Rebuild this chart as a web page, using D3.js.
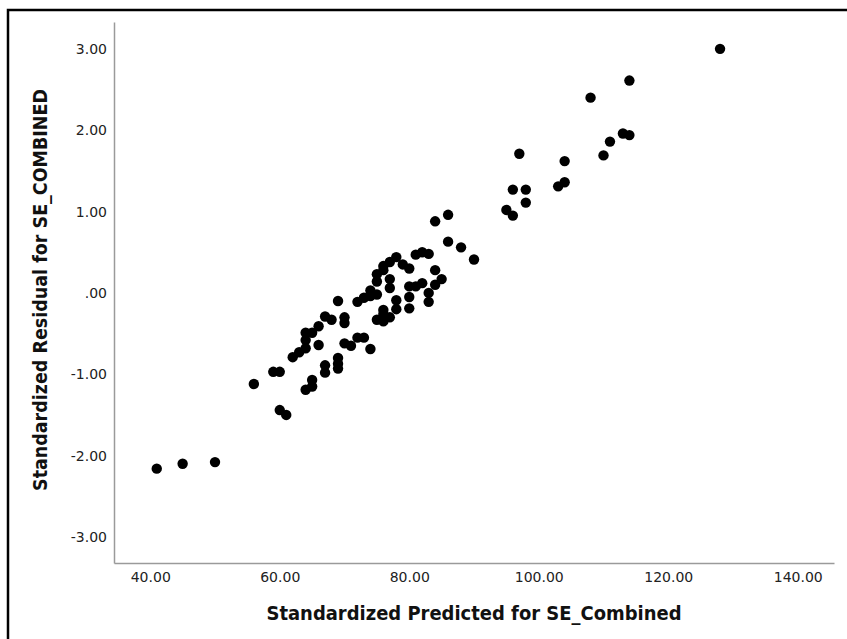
<!DOCTYPE html>
<html>
<head>
<meta charset="utf-8">
<script src="https://cdnjs.cloudflare.com/ajax/libs/d3/7.8.5/d3.min.js"></script>
<style>
  body { margin: 0; background: #fff; }
  svg { display: block; }
</style>
</head>
<body>
<script>
"use strict";

var width = 847;
var height = 639;

// predicted (x) and residual (y) values
var predicted = [41, 45, 50, 56, 59, 60, 60, 61, 62, 63, 64, 64, 64, 64, 65, 65, 65, 66, 66,
  67, 67, 67, 68, 69, 69, 69, 69, 70, 70, 70, 71, 72, 72, 73, 73, 74, 74, 74, 75, 75, 75,
  75, 76, 76, 76, 76, 76, 77, 77, 77, 77, 78, 78, 78, 79, 80, 80, 80, 80, 81, 81, 82, 82,
  83, 83, 83, 84, 84, 84, 85, 86, 86, 88, 90, 95, 96, 96, 97, 98, 98, 103, 104, 104, 108,
  110, 111, 113, 114, 114, 128];
var residual = [-2.16, -2.10, -2.08, -1.12, -0.97, -0.97, -1.44, -1.50, -0.79, -0.73, -0.68,
  -0.58, -0.49, -1.19, -0.49, -1.07, -1.15, -0.41, -0.64, -0.29, -0.89, -0.98, -0.33, -0.10,
  -0.80, -0.87, -0.93, -0.30, -0.37, -0.62, -0.65, -0.11, -0.55, -0.55, -0.06, -0.04, -0.69,
  0.03, -0.02, 0.14, 0.23, -0.33, 0.28, 0.33, -0.21, -0.26, -0.35, 0.38, 0.17, 0.06, -0.30,
  0.44, -0.09, -0.20, 0.35, 0.30, 0.08, -0.05, -0.19, 0.47, 0.08, 0.50, 0.12, 0.48, 0.00,
  -0.11, 0.28, 0.10, 0.88, 0.17, 0.96, 0.63, 0.56, 0.41, 1.02, 0.95, 1.27, 1.71, 1.27, 1.11,
  1.31, 1.36, 1.62, 2.40, 1.69, 1.86, 1.96, 1.94, 2.61, 3.00];

var xTicks = [40, 60, 80, 100, 120, 140];
var yTicks = [-3, -2, -1, 0, 1, 2, 3];
var yTickLabels = ["-3.00", "-2.00", "-1.00", ".00", "1.00", "2.00", "3.00"];

var dataset = predicted.map(function (d, i) {
  return [d, residual[i]];
});

var svg = d3.select("body").append("svg").attr("width", width).attr("height", height);

svg.append("rect").attr("x", 8).attr("y", 10).attr("width", 900).attr("height", 700)
  .attr("fill", "none").attr("stroke", "#000").attr("stroke-width", 2.5);

// Define Scales

var xScale = d3.scaleLinear().domain([34.4, 145.6]).range([114, 834]);
var yScale = d3.scaleLinear().domain([-3.32, 3.33]).range([563, 22]);

// Axes

var xAxis = d3.axisBottom(xScale).tickValues(xTicks).tickSize(0).tickPadding(9)
  .tickFormat(d3.format(".2f"));
var yAxis = d3.axisLeft(yScale).tickValues(yTicks).tickSize(0).tickPadding(7)
  .tickFormat(function (d, i) { return yTickLabels[i]; });

var gx = svg.append("g").attr("transform", "translate(0," + 563 + ")").call(xAxis).attr("id", "x-axis");
var gy = svg.append("g").attr("transform", "translate(" + 114 + ",0)").call(yAxis).attr("id", "y-axis");

[gx, gy].forEach(function (g) {
  g.select(".domain").attr("stroke", "#9a9a9a").attr("stroke-width", 1.5);
  g.selectAll("text").attr("font-family", "DejaVu Sans, sans-serif").attr("font-size", 14).attr("fill", "#222");
});

// Draw Data

svg.append("g").selectAll("circle").data(dataset).enter().append("circle")
  .attr("cx", function (d) { return xScale(d[0]); })
  .attr("cy", function (d) { return yScale(d[1]); })
  .attr("r", 5.2)
  .attr("fill", "#000");

// Titles

svg.append("text").attr("x", 474).attr("y", 620).attr("text-anchor", "middle")
  .attr("font-family", "DejaVu Sans Condensed, DejaVu Sans, sans-serif").attr("font-weight", "bold")
  .attr("font-size", 19).attr("fill", "#111")
  .attr("textLength", 415).attr("lengthAdjust", "spacingAndGlyphs")
  .text("Standardized Predicted for SE_Combined");

svg.append("text").attr("transform", "translate(47,290) rotate(-90)").attr("text-anchor", "middle")
  .attr("font-family", "DejaVu Sans Condensed, DejaVu Sans, sans-serif").attr("font-weight", "bold")
  .attr("font-size", 19).attr("fill", "#111")
  .attr("textLength", 402).attr("lengthAdjust", "spacingAndGlyphs")
  .text("Standardized Residual for SE_COMBINED");
</script>
</body>
</html>
